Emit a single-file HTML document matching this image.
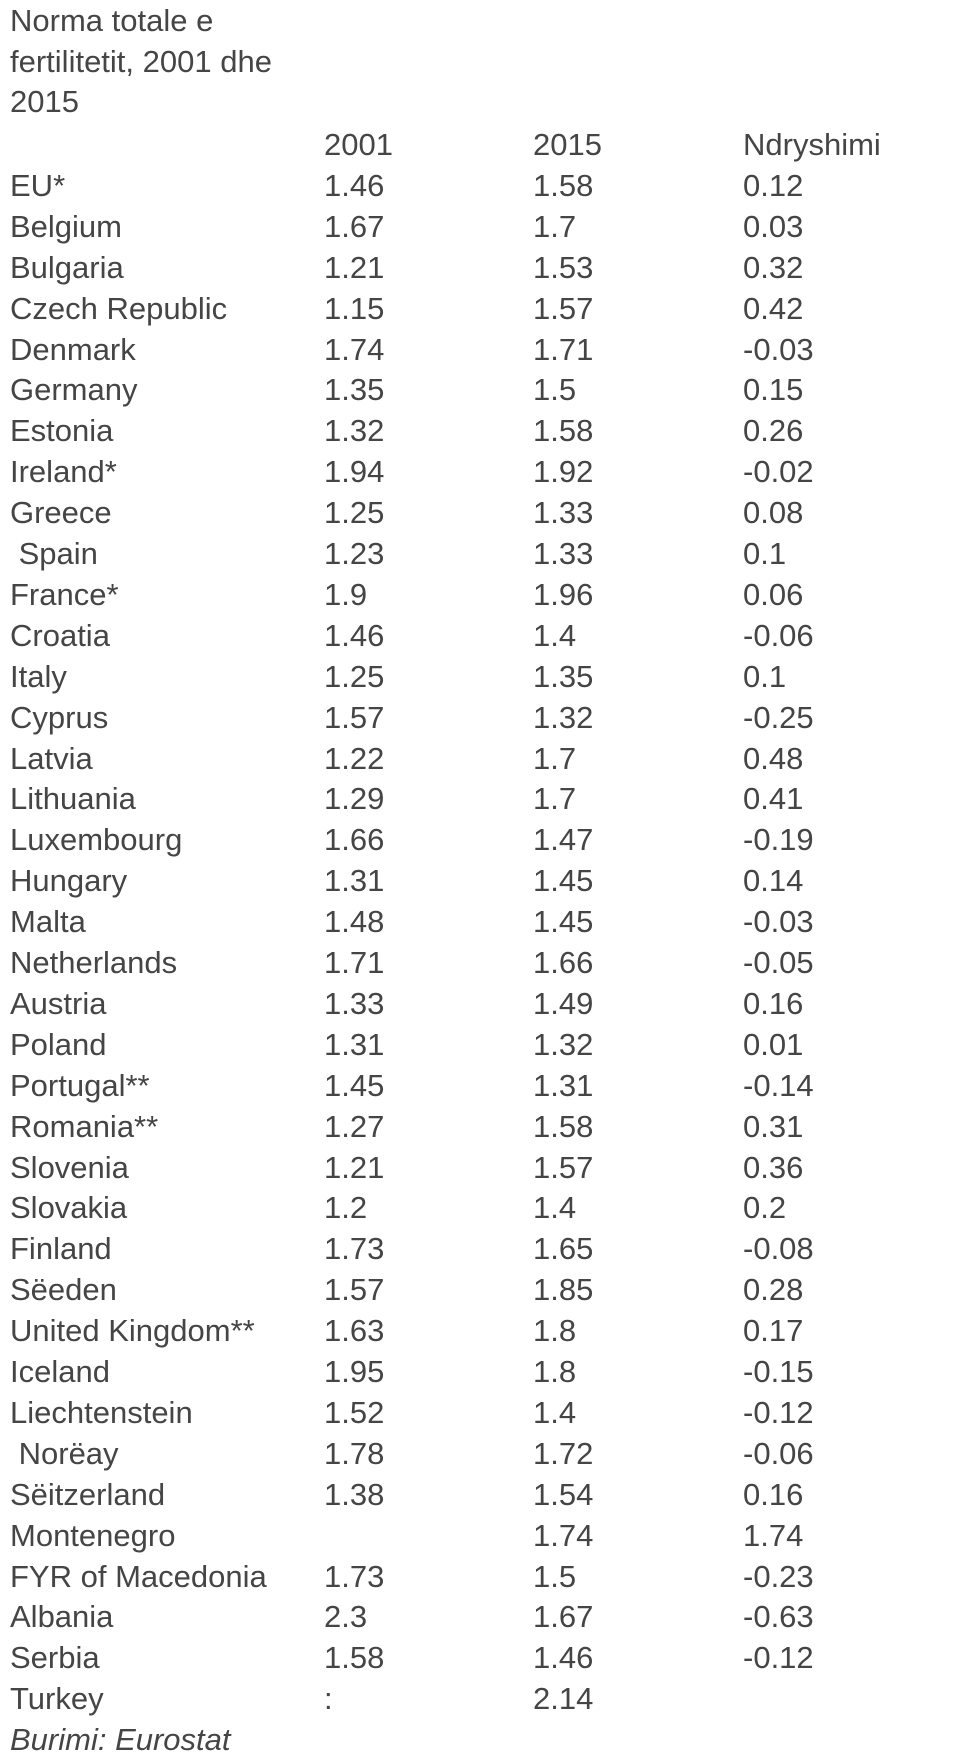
<!DOCTYPE html>
<html><head><meta charset="utf-8"><style>
html,body{margin:0;padding:0;background:#fff;}
body{width:980px;height:1763px;position:relative;overflow:hidden;font-family:"Liberation Sans",Arial,sans-serif;font-size:31px;color:#454545;}
div.t{position:absolute;line-height:40px;white-space:pre;}
</style></head><body>
<div class="t" style="left:10px;top:1px">Norma totale e</div>
<div class="t" style="left:10px;top:42px">fertilitetit, 2001 dhe</div>
<div class="t" style="left:10px;top:82px">2015</div>
<script>
var rows=[["","2001","2015","Ndryshimi"],["EU*","1.46","1.58","0.12"],["Belgium","1.67","1.7","0.03"],["Bulgaria","1.21","1.53","0.32"],["Czech Republic","1.15","1.57","0.42"],["Denmark","1.74","1.71","-0.03"],["Germany","1.35","1.5","0.15"],["Estonia","1.32","1.58","0.26"],["Ireland*","1.94","1.92","-0.02"],["Greece","1.25","1.33","0.08"],[" Spain","1.23","1.33","0.1"],["France*","1.9","1.96","0.06"],["Croatia","1.46","1.4","-0.06"],["Italy","1.25","1.35","0.1"],["Cyprus","1.57","1.32","-0.25"],["Latvia","1.22","1.7","0.48"],["Lithuania","1.29","1.7","0.41"],["Luxembourg","1.66","1.47","-0.19"],["Hungary","1.31","1.45","0.14"],["Malta","1.48","1.45","-0.03"],["Netherlands","1.71","1.66","-0.05"],["Austria","1.33","1.49","0.16"],["Poland","1.31","1.32","0.01"],["Portugal**","1.45","1.31","-0.14"],["Romania**","1.27","1.58","0.31"],["Slovenia","1.21","1.57","0.36"],["Slovakia","1.2","1.4","0.2"],["Finland","1.73","1.65","-0.08"],["Sëeden","1.57","1.85","0.28"],["United Kingdom**","1.63","1.8","0.17"],["Iceland","1.95","1.8","-0.15"],["Liechtenstein","1.52","1.4","-0.12"],[" Norëay","1.78","1.72","-0.06"],["Sëitzerland","1.38","1.54","0.16"],["Montenegro","","1.74","1.74"],["FYR of Macedonia","1.73","1.5","-0.23"],["Albania","2.3","1.67","-0.63"],["Serbia","1.58","1.46","-0.12"],["Turkey",":","2.14",""]];
var xs=[10,324,533,743],h="";
rows.forEach(function(r,i){var top=Math.round(145+40.9*i-20);r.forEach(function(c,j){if(c)h+='<div class="t" style="left:'+xs[j]+'px;top:'+top+'px">'+c+'</div>';});});
h+='<div class="t" style="left:10px;top:1720px;font-style:italic">Burimi: Eurostat</div>';
document.write(h);
</script>
</body></html>
